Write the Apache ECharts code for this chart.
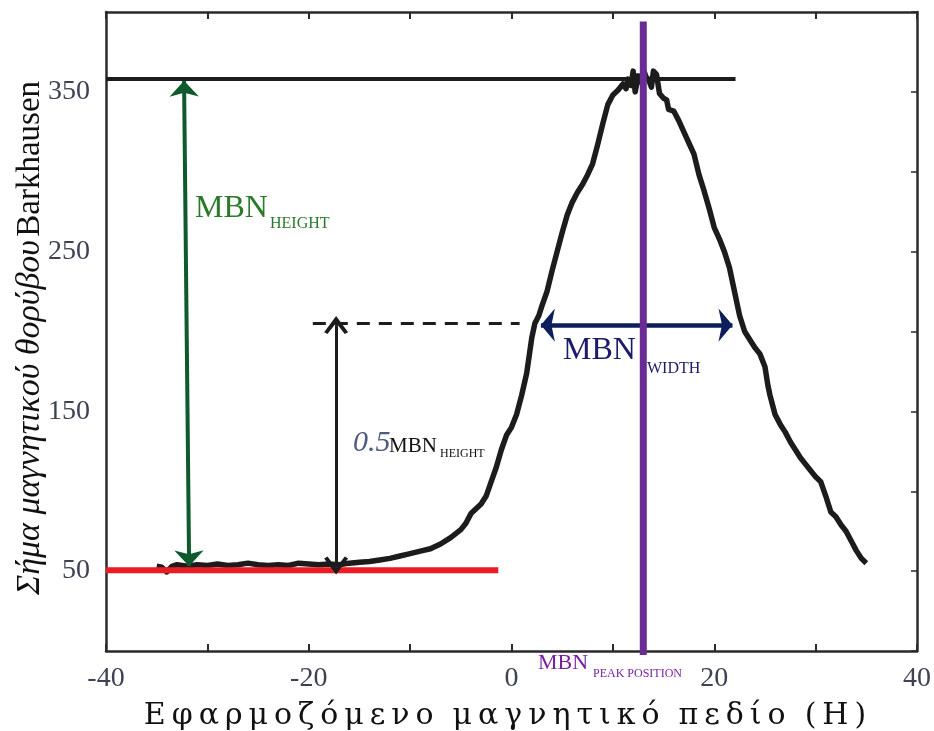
<!DOCTYPE html>
<html>
<head>
<meta charset="utf-8">
<script src="https://cdn.jsdelivr.net/npm/echarts@6/dist/echarts.min.js"></script>
<style>
html,body{margin:0;padding:0;background:#fff;}
#chart{width:934px;height:731px;}
</style>
</head>
<body>
<div id="chart"></div>
<script>
// ---- data ----
var fieldH = [-35,-34.5,-34,-33.5,-33,-32.5,-32,-31,-30,-29,-28,-27,-26,-25,-24,-23,-22,-21,-20,-19,-18,-17,-16,-15,
  -14,-13,-12,-11,-10,-9,-8,-7,-6,-5,-4.5,-4,-3.5,-3,-2.5,-2,-1.5,-1,-0.5,0,0.5,1,1.5,2,2.3,2.7,3,3.5,4,4.5,5,5.5,6,6.5,7,7.5,8,8.5,9,9.5,10,10.5,11,11.3,11.5,11.8,12,12.2,12.5,12.8,13,13.3,13.5,13.8,14,14.3,14.6,15,15.3,15.5,16,16.5,17,17.5,18,18.5,19,19.5,20,20.5,21,21.5,22,22.5,23,23.5,24,24.5,25,25.3,25.5,26,26.5,27,27.5,28,28.5,29,29.5,30,30.5,31,31.5,32,32.5,33,33.5,34,34.5,35];
var mbnSignal = [53,52.5,49.5,53,54,53.5,53,54,53.5,54.5,53.5,54,55,54,53.5,54,53.5,55,54.5,54,54.5,54,55,55.5,
  56,57,58,59.5,61,62.5,64,67,71,76,80,86,89,92,97,106,115,126,135,140,148,160,174,196,205,210,216,225,238,250,262,273,281,287,292,298,305,317,330,342,348,351,355,352,358,354,363,350,360,356,364,359,358,353,363,361,349,346,345,339,338,332,325,318,311,298,288,277,265,258,250,240,225,210,200,195,190,186,178,166,160,148,142,137,131,126,121,117,113,109,106,97,87,84,79,75,69,63,58,55,54];
var xTicks = [-40,-20,0,20,40];
var yTicks = [50,150,250,350];
var baselineLevel = 50.5, baselineEnd = -1.3;   // red baseline
var peakLevel = 358, peakLineEnd = 22.1;         // MBN height level
var halfLevel = 205, halfStart = -19.6, halfEnd = 0.8;
var peakPosition = 13;
var widthLeft = 2.9, widthRight = 21.8;
var heightArrowX = [-32.3, -31.8];
var halfArrowX = -17.3;

var chart = echarts.init(document.getElementById('chart'), null, {renderer:'canvas'});
var serif = '"Liberation Serif", "Times New Roman", serif';
var axisColor = '#2a2a2a';
var tickLabelColor = '#3f4254';

function xTickFmt(v){ return xTicks.indexOf(v) >= 0 ? String(v) : ''; }
function yTickFmt(v){ return yTicks.indexOf(v) >= 0 ? String(v) : ''; }

var curve = fieldH.map(function(x,i){ return [x, mbnSignal[i]]; });

var openArrow = 'path://M5,0 L10,8.5 L8.6,9.5 L5,3.6 L1.4,9.5 L0,8.5 Z';

chart.setOption({
  animation:false,
  backgroundColor:'#fff',
  grid:{left:106,right:17,top:12,bottom:80},
  xAxis:[{
    type:'value', min:-40, max:40, interval:10, position:'bottom',
    axisLine:{show:true,onZero:false,lineStyle:{color:axisColor,width:2.5}},
    axisTick:{show:true,inside:true,length:7,lineStyle:{color:axisColor,width:2}},
    axisLabel:{formatter:xTickFmt,color:tickLabelColor,fontFamily:serif,fontSize:28,margin:14},
    splitLine:{show:false}
  },{
    type:'value', min:-40, max:40, interval:10, position:'top',
    axisLine:{show:true,onZero:false,lineStyle:{color:axisColor,width:2.5}},
    axisTick:{show:true,inside:true,length:7,lineStyle:{color:axisColor,width:2}},
    axisLabel:{show:false}, splitLine:{show:false}
  }],
  yAxis:[{
    type:'value', min:0, max:400, interval:50, position:'left',
    axisLine:{show:true,onZero:false,lineStyle:{color:axisColor,width:2.5}},
    axisTick:{show:false},
    axisLabel:{formatter:yTickFmt,color:tickLabelColor,fontFamily:serif,fontSize:28,margin:16},
    splitLine:{show:false}
  },{
    type:'value', min:0, max:400, interval:50, position:'right',
    axisLine:{show:true,onZero:false,lineStyle:{color:axisColor,width:2.5}},
    axisTick:{show:true,inside:true,length:6,lineStyle:{color:axisColor,width:1.5}},
    axisLabel:{show:false}, splitLine:{show:false}
  }],
  series:[
    {type:'line', name:'MBN', data:curve, showSymbol:false, symbol:'none', z:3,
     lineStyle:{color:'#1c1c1c',width:5.5,join:'round'}},
    {type:'line', data:[[-40,baselineLevel],[baselineEnd,baselineLevel]], symbol:'none', z:4,
     lineStyle:{color:'#ec1c24',width:6}},
    {type:'line', data:[[-40,peakLevel],[peakLineEnd,peakLevel]], symbol:'none', z:2,
     lineStyle:{color:'#1c1c1c',width:4}},
    {type:'line', data:[[halfStart,halfLevel],[halfEnd,halfLevel]], symbol:'none', z:2,
     lineStyle:{color:'#1c1c1c',width:3,type:[13,9]}},
    {type:'line', data:[], symbol:'none', z:5,
     markLine:{silent:true, animation:false, label:{show:false}, emphasis:{disabled:true},
       data:[
         [{coord:[heightArrowX[0],peakLevel-1],symbol:'arrow',symbolSize:[22,16],lineStyle:{color:'#0f5a2c',width:4,type:'solid'}},
          {coord:[heightArrowX[1],mbnSignal[4]-1],symbol:'arrow',symbolSize:[22,16]}],
         [{coord:[halfArrowX,halfLevel-1],symbol:openArrow,symbolSize:[24,18],lineStyle:{color:'#1c1c1c',width:3,type:'solid'}},
          {coord:[halfArrowX,mbnSignal[21]-0.5],symbol:openArrow,symbolSize:[24,18]}],
         [{coord:[widthLeft,halfLevel-1],symbol:'arrow',symbolSize:[25,14],lineStyle:{color:'#0c1e5b',width:4.5,type:'solid'}},
          {coord:[widthRight,halfLevel-1],symbol:'arrow',symbolSize:[25,14]}]
       ]}
    },
    {type:'line', data:[[peakPosition,-2.5],[peakPosition,394]], symbol:'none', z:10, clip:false,
     lineStyle:{color:'#6a2c92',width:7}}
  ]
});

// ---- annotation text ----
var g = [];
function txt(x,y,text,size,color,opts){
  opts = opts||{};
  g.push({type:'text', x:x, y:y, z:20, silent:true, rotation:opts.rot||0,
    style:{text:text, fill:color, font:(opts.style||'normal')+' '+size+'px '+(opts.family||serif),
      textAlign:opts.align||'left', textVerticalAlign:'middle'}});
}
txt(195,209,'MBN',32,'#2a7a2a');
txt(270,224,'HEIGHT',16,'#2a7a2a');
txt(353,443,'0.5',30,'#4d5c80',{style:'italic'});
txt(389,446,'MBN',21,'#111');
txt(440,454,'HEIGHT',12,'#111');
txt(563,351,'MBN',32,'#1c1a6b');
txt(647,369,'WIDTH',16,'#1c1a6b');
txt(538,663,'MBN',22,'#7a1fa0');
txt(593,674,'PEAK POSITION',12,'#7a1fa0');
// axis titles
var hs = '\u200A';
function spaced(w){ return w.split('').join(hs+hs); }
txt(505,716,[spaced('Εφαρμοζόμενο'),spaced('μαγνητικό'),spaced('πεδίο'),spaced('(Η)')].join('  '),30,'#111',{align:'center',family:'"DejaVu Serif", serif'});
g.push({type:'text', x:30, y:338, z:20, silent:true, rotation:Math.PI/2,
  style:{text:'{g|Σήμα μαγνητικού θορύβου} {b|Barkhausen}', textAlign:'center', textVerticalAlign:'middle',
    rich:{g:{font:'italic 34px '+serif, fill:'#111'}, b:{font:'normal 33px '+serif, fill:'#111'}}}});
chart.setOption({graphic:g});
</script>
</body>
</html>
